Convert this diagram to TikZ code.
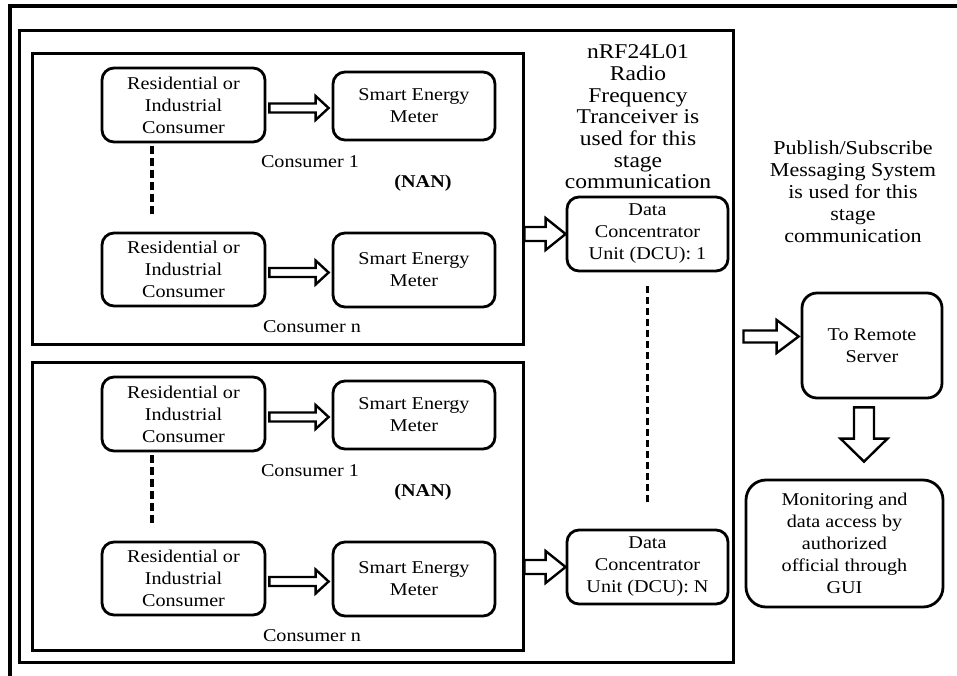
\documentclass[tikz,border=0pt]{standalone}
\usepackage{fontspec}
\setmainfont[FakeStretch=1.12]{Liberation Serif}
\usetikzlibrary{calc}

\newcommand\boxfont{\fontsize{18}{22}\selectfont}
\newcommand\notefont{\fontsize{19.7}{22}\selectfont}
\newcommand\rffont{\fontsize{21}{21.7}\selectfont}

\tikzset{
  x=1pt, y=-1pt,
  frame/.style={draw, line width=3pt, inner sep=0pt},
  rbox/.style={draw, line width=2.8pt, rounded corners=12pt, align=center,
    font=\boxfont, inner sep=0pt},
  lbl/.style={align=center, font=\boxfont, inner sep=0pt},
  hollow/.style={draw, line width=2.4pt, fill=white, line join=miter},
  dots/.style={line width=3.2pt, dash pattern=on 8pt off 4pt},
}

% hollow block arrow pointing right:
% #1 start, #2 end, #3 start gap, #4 end gap, #5 shaft half, #6 head half, #7 head length
\newcommand\blockright[7]{%
  \path[hollow] let \p1=(#1), \p2=(#2) in
    ({\x1+#3pt},{\y1+#5pt}) -- ({\x2-#4pt-#7pt},{\y1+#5pt}) --
    ({\x2-#4pt-#7pt},{\y1+#6pt}) -- ({\x2-#4pt},{\y1}) --
    ({\x2-#4pt-#7pt},{\y1-#6pt}) -- ({\x2-#4pt-#7pt},{\y1-#5pt}) --
    ({\x1+#3pt},{\y1-#5pt}) -- cycle;}
% hollow block arrow pointing down, same arguments
\newcommand\blockdown[7]{%
  \path[hollow] let \p1=(#1), \p2=(#2) in
    ({\x1-#5pt},{\y1-#3pt}) -- ({\x1-#5pt},{\y2+#4pt+#7pt}) --
    ({\x1-#6pt},{\y2+#4pt+#7pt}) -- ({\x1},{\y2+#4pt}) --
    ({\x1+#6pt},{\y2+#4pt+#7pt}) -- ({\x1+#5pt},{\y2+#4pt+#7pt}) --
    ({\x1+#5pt},{\y1-#3pt}) -- cycle;}

\begin{document}
\begin{tikzpicture}
\useasboundingbox (0,0) rectangle (957,675);

% outer border
\draw[line width=3.2pt] (10,680) -- (10,6) -- (962,6);

% the DCU stage frame and the two neighbourhood area networks
\node[frame, minimum width=714pt, minimum height=632pt] (stage) at (376,346) {};
\node[frame, minimum width=491pt, minimum height=291pt] (nan1) at (277.5,198.5) {};
\node[frame, minimum width=491pt, minimum height=288pt] (nan2) at (277.5,506) {};

% ---- first NAN ----
\node[rbox, minimum width=163pt, minimum height=74pt] (r1) at (183.5,105) {Residential or\\Industrial\\Consumer};
\node[rbox, minimum width=162pt, minimum height=68pt] (s1) at (414,106) {Smart Energy\\Meter};
\node[lbl] (c1) at (310,162) {Consumer 1};
\node[lbl, font=\boxfont\bfseries] (n1) at (423,183) {(NAN)};
\node[rbox, minimum width=163pt, minimum height=73pt] (r2) at (183.5,269.5) {Residential or\\Industrial\\Consumer};
\node[rbox, minimum width=162pt, minimum height=74pt] (s2) at (414,270) {Smart Energy\\Meter};
\node[lbl] (cn1) at (312,327) {Consumer n};
\draw[dots] ($(r1.south)+(-31.5,3)$) -- ($(r2.north)+(-31.5,-15)$);

% ---- second NAN ----
\node[rbox, minimum width=163pt, minimum height=74pt] (r3) at (183.5,414) {Residential or\\Industrial\\Consumer};
\node[rbox, minimum width=162pt, minimum height=68pt] (s3) at (414,415) {Smart Energy\\Meter};
\node[lbl] (c2) at (310,471) {Consumer 1};
\node[lbl, font=\boxfont\bfseries] (n2) at (423,492) {(NAN)};
\node[rbox, minimum width=163pt, minimum height=73pt] (r4) at (183.5,578.5) {Residential or\\Industrial\\Consumer};
\node[rbox, minimum width=162pt, minimum height=74pt] (s4) at (414,579) {Smart Energy\\Meter};
\node[lbl] (cn2) at (312,636) {Consumer n};
\draw[dots] ($(r3.south)+(-31.5,3)$) -- ($(r4.north)+(-31.5,-15)$);

% consumer to meter arrows
\blockright{$(r1.east)+(0,3)$}{s1.west}{3}{3}{4.5}{12}{13}
\blockright{$(r2.east)+(0,3)$}{s2.west}{3}{3}{4.5}{12}{13}
\blockright{$(r3.east)+(0,3)$}{s3.west}{3}{3}{4.5}{12}{13}
\blockright{$(r4.east)+(0,3)$}{s4.west}{3}{3}{4.5}{12}{13}

% ---- data concentrators ----
\node[lbl, font=\rffont] (rf) at (638,117) {nRF24L01\\Radio\\Frequency\\Tranceiver is\\used for this\\stage\\communication};
\node[rbox, minimum width=161pt, minimum height=74pt] (dcu1) at (647.5,234) {Data\\Concentrator\\Unit (DCU): 1};
\node[rbox, minimum width=161pt, minimum height=74pt] (dcun) at (647.5,567) {Data\\Concentrator\\Unit (DCU): N};
\draw[dots, dash pattern=on 7pt off 4pt] ($(dcu1.south)+(0,14)$) -- ($(dcun.north)+(0,-23)$);
\blockright{nan1.east |- dcu1.west}{dcu1.west}{0}{0}{7}{16}{20}
\blockright{nan2.east |- dcun.west}{dcun.west}{0}{0}{7}{16}{20}

% ---- server side ----
\node[lbl, font=\notefont] (ps) at (853,192) {Publish/Subscribe\\Messaging System\\is used for this\\stage\\communication};
\node[rbox, rounded corners=15pt, minimum width=140pt, minimum height=105pt] (srv) at (872,345.5) {To Remote\\Server};
\node[rbox, rounded corners=20pt, minimum width=197pt, minimum height=127pt] (mon) at (844.5,543.5) {Monitoring and\\data access by\\authorized\\official through\\GUI};
\coordinate (srvin) at ($(srv.west)+(0,-9)$);
\blockright{stage.east |- srvin}{srvin}{9}{2}{6}{16.5}{22}
\coordinate (srvout) at ($(srv.south)+(-8,0)$);
\blockdown{srvout}{srvout |- mon.north}{8}{17}{10}{23.5}{23}
\end{tikzpicture}
\end{document}
